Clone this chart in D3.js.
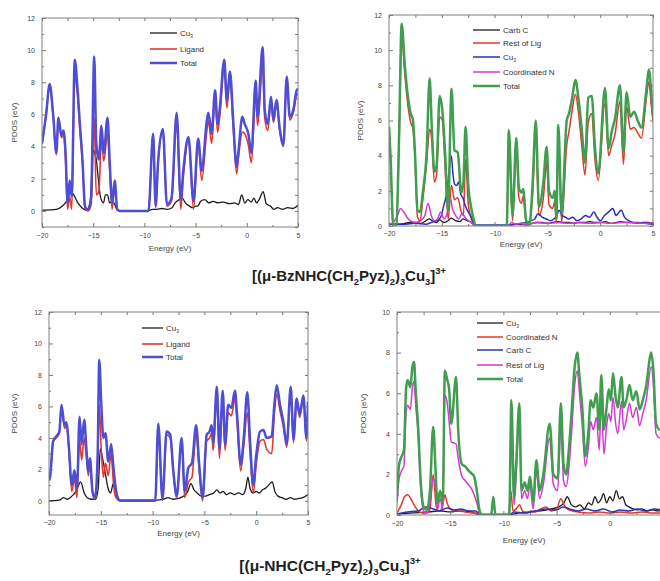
<!DOCTYPE html>
<html><head><meta charset="utf-8">
<script src="https://cdn.jsdelivr.net/npm/d3@7"></script>
<style>body{margin:0;background:#fff}svg{display:block}</style>
</head><body>
<svg id="c" width="660" height="581"></svg>
<script>
// ---------- DATA ----------
const xTickLabels = [-20, -15, -10, -5, 0, 5];
const yTicks12 = [0, 2, 4, 6, 8, 10, 12];
const yTicks10 = [0, 2, 4, 6, 8, 10];

// Panel 1 : [(μ-BzNHC(CH2Pyz)2)3Cu3]3+  (Cu3 / Ligand / Total)
const p1Energy = [-20,-19.6,-19.25,-18.9,-18.6,-18.4,-18.1,-17.9,-17.7,-17.5,-17.3,-17.1,-16.8,-16.55,-16.3,-16.05,-15.8,-15.5,-15.2,-14.9,-14.7,-14.45,-14.2,-13.97,-13.6,-13.4,-13.15,-12.9,-12.65,-12.4,-9.6,-9.15,-8.9,-8.67,-8.2,-7.8,-7.35,-6.85,-6.45,-6.2,-5.7,-5.2,-4.75,-4.4,-3.9,-3.75,-3.43,-3.1,-2.85,-2.65,-2.2,-1.95,-1.64,-1.33,-1.0,-0.8,-0.44,-0.2,0.15,0.45,0.87,1.05,1.55,1.75,2.05,2.36,2.6,2.9,3.2,3.57,3.9,4.2,4.55,4.87,5];
const p1Total = [4.2,6.0,7.9,5.9,3.6,5.8,4.7,5.0,3.6,0.5,1.9,0.9,9.4,7.8,5.4,3.2,0.3,0.05,0.9,9.6,4.2,3.2,5.3,3.6,5.8,3.2,0.5,1.9,0.1,0,0,4.8,0.3,3.0,5.1,0.4,0.8,6.1,0.7,2.5,4.6,0.6,4.5,2.5,5.65,6.1,4.8,7.5,5.4,6.3,9.4,6.9,8.65,5.65,2.75,3.8,5.85,5.4,4.8,3.6,8.1,5.85,10.2,6.3,5.4,7.1,5.65,6.9,5.2,4.1,8.35,5.85,6.3,7.5,7.6];
const p1Ligand = [4.15,5.95,7.8,5.8,3.5,5.65,4.55,4.8,3.2,0.1,0.9,0.1,8.3,7.3,5.0,3.0,0.15,0.0,0.4,5.8,1.0,1.2,4.4,3.1,4.8,2.7,0.1,1.5,0.05,0,0,4.7,0.2,2.9,5.0,0.3,0.6,5.5,0.1,2.1,4.4,0.1,4.2,1.9,5.0,5.6,4.2,7.0,4.9,5.8,8.9,6.4,8.2,5.2,2.3,3.4,4.9,4.8,4.1,3.0,7.3,5.3,9.0,5.8,5.0,6.8,5.5,6.7,5.1,4.0,8.1,5.65,6.15,7.2,7.25];
const p1CuEnergy = [-20,-18.6,-18.0,-17.6,-17.2,-16.9,-16.5,-16.1,-15.7,-15.3,-15.0,-14.85,-14.7,-14.5,-14.3,-14.0,-13.8,-13.6,-13.4,-13.1,-12.9,-12.6,-9.6,-9.2,-8.8,-8.3,-7.8,-7.3,-7.0,-6.6,-6.3,-6.0,-5.6,-5.3,-5.0,-4.8,-4.5,-4.1,-3.7,-3.3,-2.8,-2.3,-1.7,-1.2,-0.8,-0.5,-0.2,0.1,0.45,0.7,0.95,1.2,1.6,1.9,2.3,2.65,3.0,3.5,4.0,4.5,5];
const p1Cu = [0.05,0.1,0.3,0.6,1.2,1.0,0.5,0.2,0.05,0.5,3.8,3.6,3.2,2.0,0.9,0.5,1.0,1.0,0.5,0.6,0.4,0.02,0.02,0.1,0.1,0.15,0.1,0.2,0.5,0.7,0.8,0.5,0.3,0.2,0.3,0.3,0.6,0.7,0.5,0.6,0.5,0.55,0.45,0.5,0.4,1.0,0.5,0.7,0.55,0.8,0.5,0.7,1.2,0.45,0.3,0.1,0.2,0.1,0.2,0.15,0.35];

// Panel 2 : (Carb C / Rest of Lig / Cu3 / Coordinated N / Total)
const p2Energy = [-20,-19.85,-19.6,-19.3,-19.05,-18.8,-18.5,-18.2,-17.9,-17.75,-17.55,-17.3,-17.05,-16.8,-16.45,-16.15,-15.95,-15.7,-15.5,-15.2,-14.95,-14.7,-14.4,-14.08,-13.8,-13.5,-13.15,-12.95,-12.75,-12.5,-12.2,-11.95,-11.8,-8.85,-8.65,-8.3,-7.95,-7.7,-7.45,-7.3,-7.0,-6.7,-6.4,-6.1,-5.8,-5.4,-5.07,-4.85,-4.5,-4.3,-4.15,-3.97,-3.65,-3.17,-2.95,-2.65,-2.35,-2.05,-1.75,-1.44,-1.13,-0.8,-0.5,-0.18,0.45,0.8,1.1,1.4,1.87,2.2,2.5,2.85,3.2,3.55,3.9,4.4,4.6,4.85,5];
const p2Total = [5.65,3.9,0,0.1,5.0,11.5,9.1,7.3,6.3,6.1,4.3,0.9,0.8,1.9,4.0,8.4,5.65,3.1,3.4,7.4,6.6,4.3,0.9,7.8,4.3,4.2,1.9,2.5,5.65,2.4,1.0,0.3,0,0,5.45,0.6,5.0,2.2,1.9,2.1,0.3,0.1,2.4,6.0,1.1,2.4,4.5,2.0,1.6,2.0,0.4,5.75,0.7,6.0,6.4,7.3,8.3,7.2,5.5,3.6,7.3,7.4,4.5,3.0,7.85,4.4,5.4,6.1,8.0,4.2,7.6,6.2,6.5,6.0,5.6,7.9,8.9,7.5,6.2];
const p2RestLig = [5.4,3.6,0,0.05,4.5,10.8,8.6,6.8,5.8,5.6,4.0,0.5,0.3,1.5,3.5,5.5,4.9,2.5,2.9,6.2,6.0,3.5,0.4,2.3,1.5,1.6,0.8,0.6,3.8,1.3,0.4,0.1,0,0,4.7,0.3,4.2,1.6,1.3,1.7,0.15,0.05,1.8,5.2,0.6,1.5,3.6,1.2,1.0,1.4,0.15,4.6,0.2,4.6,5.4,6.6,7.5,6.4,4.6,2.9,5.9,6.4,3.8,2.6,7.0,4.0,4.6,5.2,7.1,3.5,6.8,5.5,5.6,5.3,5.0,7.4,8.2,6.8,6.0];
const p2CarbEnergy = [-20,-19,-18.5,-18,-17.5,-17,-16.5,-16.2,-15.9,-15.5,-15.2,-14.8,-14.4,-14.1,-13.7,-13.3,-13,-12.6,-12.2,-11.9,-8.7,-8.3,-7.5,-7,-6.5,-6,-5.5,-5,-4.5,-4,-3.5,-3,-2.5,-2,-1.5,-1,-0.5,0,0.5,1,1.5,2,2.5,3,3.5,4,4.5,5];
const p2Carb = [0.1,0.1,0.15,0.2,0.2,0.15,0.3,0.4,0.3,0.2,0.35,0.2,0.3,0.45,0.3,0.25,0.4,0.3,0.2,0.02,0.02,0.1,0.1,0.05,0.15,0.2,0.2,0.15,0.2,0.25,0.2,0.2,0.15,0.2,0.2,0.25,0.2,0.2,0.25,0.15,0.2,0.25,0.2,0.2,0.15,0.2,0.2,0.15];
const p2CuEnergy = [-20,-18.5,-17.5,-16.5,-16,-15.5,-15.1,-14.8,-14.5,-14.3,-14.1,-13.95,-13.8,-13.6,-13.4,-13.2,-13.0,-12.8,-12.5,-12.2,-11.9,-8.7,-8,-7.5,-7,-6.6,-6.2,-5.9,-5.5,-5.1,-4.7,-4.4,-4.1,-3.9,-3.6,-3.3,-3.0,-2.6,-2.2,-1.8,-1.4,-1.0,-0.6,-0.3,0,0.4,0.8,1.2,1.5,1.8,2.0,2.3,2.7,3.1,3.6,4.2,5];
const p2Cu = [0.1,0.1,0.15,0.1,0.2,0.3,0.5,1.2,2.0,3.2,4.0,3.0,2.4,2.3,2.5,1.8,1.6,1.2,0.8,0.5,0.05,0.05,0.1,0.15,0.2,0.3,0.4,0.7,0.5,0.4,0.3,0.4,0.6,0.9,0.6,0.5,0.4,0.5,0.3,0.4,0.6,0.5,0.8,0.5,0.3,0.6,0.8,1.0,0.6,0.8,0.9,0.5,0.3,0.2,0.2,0.15,0.1];
const p2CoordEnergy = [-20,-19.6,-19.2,-18.9,-18.6,-18.3,-18,-17.5,-17,-16.6,-16.3,-16.0,-15.7,-15.4,-15.1,-14.8,-14.5,-14.2,-14.0,-13.7,-13.4,-13.1,-12.8,-12.5,-12.2,-11.9,-8.7,-8.4,-8,-7.5,-7,-6,-5,-4,-3,-2,-1,0,1,2,3,4,5];
const p2Coord = [0.1,0.2,0.6,1.0,0.8,0.5,0.3,0.2,0.3,0.6,1.3,0.6,0.3,0.4,0.8,0.4,0.7,1.6,1.0,0.6,0.4,0.7,0.5,0.3,0.2,0.02,0.02,0.2,0.1,0.15,0.05,0.2,0.15,0.2,0.15,0.2,0.15,0.2,0.15,0.2,0.2,0.15,0.2];

// Panel 3 : [(μ-NHC(CH2Pyz)2)3Cu3]3+  (Cu3 / Ligand / Total)
const p3Energy = [-20,-19.9,-19.6,-19.3,-19.0,-18.8,-18.5,-18.3,-18.1,-17.8,-17.55,-17.3,-17.05,-16.85,-16.6,-16.4,-16.2,-16.05,-15.8,-15.55,-15.3,-15.15,-14.95,-14.75,-14.55,-14.28,-14.0,-13.8,-13.6,-13.3,-13.1,-9.75,-9.45,-9.05,-8.65,-8.3,-8.0,-7.67,-7.2,-6.9,-6.55,-6.2,-5.8,-5.5,-5.17,-4.78,-4.5,-4.3,-4.15,-3.8,-3.55,-3.23,-3.0,-2.7,-2.4,-2.05,-1.85,-1.5,-1.2,-0.86,-0.6,-0.28,0.0,0.37,0.7,1.0,1.5,1.75,1.98,2.3,2.6,2.95,3.33,3.6,3.9,4.2,4.55,4.85,5];
const p3Total = [1.3,1.5,3.8,4.1,4.4,6.1,4.8,5.0,3.6,1.0,1.95,0.8,5.35,3.6,5.15,3.4,1.86,2.7,0.6,0.2,3.0,8.95,6.1,4.0,4.3,2.5,3.6,2.3,1.0,0.1,0,0,4.9,0.1,4.4,4.2,1.9,0.3,4.0,0.6,2.1,2.4,4.8,2.3,0.2,4.2,4.4,4.8,3.7,7.25,3.3,7.0,3.6,6.1,5.9,7.0,5.5,2.3,4.0,6.9,3.9,1.0,2.9,4.4,4.5,4.0,4.1,6.1,7.35,6.1,5.1,3.6,7.25,3.9,6.5,5.5,6.7,4.0,6.3];
const p3Ligand = [1.3,1.5,3.75,4.0,4.3,5.9,4.6,4.8,3.4,0.6,1.4,0.2,3.9,2.6,4.0,2.8,1.6,2.5,0.5,0.1,2.2,6.1,3.2,1.5,2.4,1.6,3.0,1.3,0.3,0.05,0,0,4.8,0.02,4.2,4.0,1.8,0.15,3.7,0.2,1.2,1.5,4.3,1.9,0.0,3.8,4.0,4.3,3.2,6.6,2.7,6.4,3.2,5.6,5.4,6.5,5.0,1.9,3.5,5.6,3.1,0.5,2.3,3.8,3.9,3.3,3.0,5.5,6.8,5.7,4.8,3.4,7.05,3.7,6.3,5.3,6.5,3.8,6.0];
const p3CuEnergy = [-20,-19,-18.6,-18.2,-17.8,-17.5,-17.2,-16.95,-16.6,-16.3,-15.9,-15.5,-15.25,-15.05,-14.8,-14.55,-14.3,-14.05,-13.8,-13.6,-13.4,-13.2,-9.6,-9.0,-8.5,-8.0,-7.5,-7.0,-6.6,-6.3,-6.0,-5.7,-5.3,-4.9,-4.5,-4.1,-3.8,-3.5,-3.2,-2.9,-2.5,-2.1,-1.7,-1.3,-1.0,-0.8,-0.6,-0.3,0.0,0.3,0.6,0.9,1.2,1.55,1.8,2.1,2.5,2.9,3.3,3.7,4.1,4.5,5];
const p3Cu = [0.0,0.05,0.2,0.1,0.3,0.5,0.9,1.2,0.5,0.2,0.1,0.1,0.8,3.3,2.6,1.7,0.8,0.5,1.1,0.7,0.3,0.05,0.05,0.1,0.2,0.1,0.15,0.3,0.6,1.1,0.7,0.5,0.3,0.3,0.4,0.5,0.7,0.5,0.6,0.4,0.5,0.4,0.5,0.4,0.8,1.5,0.8,0.5,0.6,0.5,0.7,0.8,1.0,1.2,0.6,0.3,0.2,0.1,0.2,0.1,0.15,0.2,0.4];

// Panel 4 : (Cu3 / Coordinated N / Carb C / Rest of Lig / Total)
const p4Energy = [-20,-19.8,-19.55,-19.35,-19.15,-19.0,-18.75,-18.55,-18.4,-18.25,-18.0,-17.8,-17.5,-17.2,-16.9,-16.6,-16.35,-16.2,-15.95,-15.7,-15.5,-15.3,-15.1,-14.9,-14.45,-14.25,-13.9,-13.6,-13.3,-13.0,-12.75,-12.5,-12.25,-12.0,-11.15,-10.95,-10.75,-9.45,-9.25,-9.0,-8.8,-8.5,-8.3,-8.0,-7.75,-7.5,-7.2,-6.9,-6.6,-6.25,-5.65,-5.3,-4.9,-4.6,-4.35,-4.1,-3.85,-3.6,-3.3,-3.05,-2.85,-2.6,-2.3,-2.0,-1.8,-1.55,-1.25,-1.0,-0.8,-0.55,-0.3,-0.1,0.1,0.3,0.55,0.75,1.1,1.3,1.55,1.85,2.15,2.5,2.8,3.1,3.4,3.9,4.1,4.35,4.7,5];
const p4Total = [0.9,2.5,2.9,3.2,6.2,6.65,6.3,7.3,7.55,6.2,4.2,1.9,0.4,0.25,1.2,4.35,1.9,0.6,1.2,0.6,7.1,6.7,6.2,4.5,6.8,4.2,2.5,2.4,2.2,2.05,1.9,1.2,0.25,0,0,0.9,0,0,5.65,0.9,2.5,5.5,1.2,1.6,1.2,1.9,0.6,2.7,1.2,2.0,4.5,2.0,1.8,5.5,2.5,2.0,3.2,5.0,7.3,8.0,6.8,5.4,2.9,4.2,5.65,5.3,6.0,4.2,6.9,4.2,5.3,6.2,5.65,7.0,5.8,5.3,6.8,5.3,5.65,6.4,5.65,6.1,5.2,5.65,6.3,8.0,7.1,4.5,4.2,4.5];
const p4RestLig = [0.6,1.8,2.2,2.4,5.0,5.4,5.2,6.3,6.6,5.5,3.8,1.6,0.2,0.1,0.6,1.8,1.2,0.3,0.8,0.3,5.9,5.6,4.6,3.6,3.5,2.8,1.9,1.7,1.5,1.3,1.0,0.6,0.1,0,0,0.7,0,0,4.2,0.5,2.0,4.7,0.8,1.2,0.8,1.5,0.3,2.2,0.8,1.5,3.8,1.5,1.2,4.4,1.7,1.4,2.3,4.0,6.4,7.1,6.0,4.5,2.4,3.4,4.6,4.2,4.8,3.2,5.6,3.0,4.4,5.0,4.6,5.8,4.5,4.0,5.6,4.2,4.7,5.5,4.8,5.3,4.4,5.0,5.6,7.3,6.4,4.0,3.8,4.0];
const p4CoordEnergy = [-20,-19.6,-19.3,-19.0,-18.7,-18.4,-18.0,-17.6,-17.2,-16.9,-16.6,-16.3,-16.0,-15.7,-15.5,-15.3,-15.0,-14.6,-14.2,-13.6,-13,-12.5,-12.2,-9.5,-9.3,-9.1,-8.8,-8.5,-8.2,-7.8,-7.4,-7.0,-6.5,-6.0,-5.5,-5.0,-4.6,-4.3,-4.0,-3.5,-3.0,-2.0,-1.0,0,1,2,3,4,5];
const p4Coord = [0.1,0.5,0.9,1.0,0.8,0.5,0.2,0.1,0.1,0.3,2.0,0.4,0.2,0.5,1.0,0.6,0.3,0.2,0.2,0.15,0.1,0.1,0.02,0.02,1.2,0.2,0.3,0.5,0.2,0.1,0.2,0.15,0.3,0.4,0.2,0.3,0.8,0.5,0.3,0.2,0.15,0.1,0.15,0.1,0.15,0.1,0.15,0.1,0.1];
const p4CarbEnergy = [-20,-19,-18,-17.3,-16.6,-16,-15.3,-14.6,-14,-13.3,-12.6,-12.2,-9.4,-9,-8,-7,-6,-5,-4.4,-3.8,-3,-2.2,-1.4,-0.6,0.2,1,1.8,2.6,3.4,4.2,5];
const p4Carb = [0.05,0.15,0.2,0.4,0.3,0.2,0.35,0.25,0.3,0.2,0.2,0.02,0.02,0.15,0.1,0.2,0.3,0.25,0.4,0.3,0.2,0.3,0.2,0.3,0.15,0.25,0.2,0.3,0.2,0.3,0.25];
const p4CuEnergy = [-20,-18.5,-17,-16,-15,-14,-13,-12.3,-9.4,-8.5,-7.5,-6.5,-5.5,-4.8,-4.3,-4.0,-3.6,-3.2,-2.8,-2.4,-2.0,-1.7,-1.4,-1.1,-0.8,-0.6,-0.3,0.0,0.3,0.6,0.9,1.2,1.5,1.8,2.2,2.6,3.0,3.5,4.0,4.5,5];
const p4Cu = [0.05,0.1,0.15,0.2,0.15,0.2,0.15,0.02,0.02,0.1,0.15,0.2,0.3,0.4,0.6,0.9,0.5,0.4,0.5,0.3,0.6,0.5,0.9,0.6,0.8,1.05,0.6,0.9,0.7,1.2,0.8,0.9,0.5,0.4,0.3,0.25,0.3,0.2,0.25,0.2,0.2];

// ---------- STYLE ----------
const C = {black:'#1c1c1c', red:'#e2372f', totalBlue:'#4d4dd6', green:'#3f9e50', magenta:'#d03bd0', blue:'#2f2fb8'};
const FONT = "'Liberation Sans', Arial, sans-serif";

const svg = d3.select('#c');
const defs = svg.append('defs');

// rich text with sub/superscripts (no empty tspans)
function richText(sel, parts, size) {
  let cur = 0;
  parts.forEach(p => {
    const target = p[1] === 'sub' ? size * 0.28 : p[1] === 'sup' ? -size * 0.45 : 0;
    const t = sel.append('tspan').text(p[0]).attr('dy', target - cur);
    t.attr('font-size', p[1] ? size * 0.62 : size);
    cur = target;
  });
}

function drawPanel(p, idx) {
  const x = d3.scaleLinear().domain([-20, 5]).range([p.l, p.r]);
  const y = d3.scaleLinear().domain([p.ymin, p.ymax]).range([p.b, p.t]);
  const cid = 'clip' + idx;
  defs.append('clipPath').attr('id', cid).append('rect')
    .attr('x', p.l).attr('y', p.t).attr('width', p.r - p.l).attr('height', p.b - p.t);
  const g = svg.append('g');
  const line = d3.line().x(d => x(d[0])).y(d => y(d[1])).curve(d3.curveMonotoneX);
  p.series.forEach(s => {
    g.append('path').datum(d3.zip(s.e, s.v)).attr('d', line)
      .attr('fill', 'none').attr('stroke', s.c).attr('stroke-width', s.w)
      .attr('stroke-linejoin', 'round').attr('clip-path', `url(#${cid})`);
  });
  const minorX = d3.range(-17.5, 5, 5);
  const minorY = d3.range(Math.ceil(p.ymin), p.ymax + 0.01, 1).filter(v => v % 2 !== 0);
  const style = a => {
    a.select('.domain').remove();
    a.selectAll('line').attr('stroke', '#777');
    a.selectAll('text').attr('fill', '#444').attr('font-size', 7).attr('font-family', FONT);
  };
  svg.append('g').attr('transform', `translate(0,${p.b})`)
    .call(d3.axisBottom(x).tickValues(xTickLabels).tickSize(-4).tickPadding(p.xpad)).call(style);
  svg.append('g').attr('transform', `translate(0,${p.b})`)
    .call(d3.axisBottom(x).tickValues(minorX).tickSize(-2).tickFormat('')).call(style);
  svg.append('g').attr('transform', `translate(0,${p.t})`)
    .call(d3.axisTop(x).tickValues(xTickLabels.concat(minorX)).tickSize(-3).tickFormat('')).call(style);
  svg.append('g').attr('transform', `translate(${p.l},0)`)
    .call(d3.axisLeft(y).tickValues(p.yticks).tickSize(-4).tickPadding(7)).call(style);
  svg.append('g').attr('transform', `translate(${p.l},0)`)
    .call(d3.axisLeft(y).tickValues(minorY).tickSize(-2).tickFormat('')).call(style);
  svg.append('g').attr('transform', `translate(${p.r},0)`)
    .call(d3.axisRight(y).tickValues(p.yticks.concat(minorY)).tickSize(-3).tickFormat('')).call(style);
  svg.append('rect').attr('x', p.l).attr('y', p.t).attr('width', p.r - p.l).attr('height', p.b - p.t)
    .attr('fill', 'none').attr('stroke', '#808080').attr('stroke-width', 1);
  svg.append('text').attr('transform', `translate(${p.ylx},${(p.t + p.b) / 2}) rotate(-90)`)
    .attr('text-anchor', 'middle').attr('font-size', 8).attr('fill', '#444').attr('font-family', FONT).text('PDOS (eV)');
  svg.append('text').attr('x', (p.l + p.r) / 2 + p.xlDx).attr('y', p.xly)
    .attr('text-anchor', 'middle').attr('font-size', 8).attr('fill', '#444').attr('font-family', FONT).text('Energy (eV)');
  p.legend.forEach((it, i) => {
    const ly = p.legY[i];
    svg.append('line').attr('x1', p.legX1).attr('x2', p.legX2).attr('y1', ly).attr('y2', ly)
      .attr('stroke', it.c).attr('stroke-width', it.w);
    const t = svg.append('text').attr('x', p.legX2 + 3).attr('y', ly + 3)
      .attr('font-size', 8).attr('fill', '#333').attr('font-family', FONT);
    richText(t, it.label, 8);
  });
}

const L = {
  cu: [['Cu', ''], ['3', 'sub']], lig: [['Ligand', '']], tot: [['Total', '']],
  carb: [['Carb C', '']], rest: [['Rest of Lig', '']], coord: [['Coordinated N', '']]
};

const panels = [
  {l: 42, r: 298, t: 18, b: 227, ymin: -1.0, ymax: 12, yticks: yTicks12, ylx: 17, xpad: 6, xly: 251, xlDx: 0,
   series: [
     {e: p1CuEnergy, v: p1Cu, c: C.black, w: 1.3},
     {e: p1Energy, v: p1Ligand, c: C.red, w: 1.6},
     {e: p1Energy, v: p1Total, c: C.totalBlue, w: 2.5}],
   legend: [{label: L.cu, c: C.black, w: 1.3}, {label: L.lig, c: C.red, w: 1.6}, {label: L.tot, c: C.totalBlue, w: 2.5}],
   legX1: 150, legX2: 177, legY: [33, 49, 63]},
  {l: 389, r: 653, t: 15, b: 226, ymin: 0, ymax: 12, yticks: yTicks12, ylx: 363, xpad: 5, xly: 247, xlDx: 0,
   series: [
     {e: p2CarbEnergy, v: p2Carb, c: C.black, w: 1.3},
     {e: p2Energy, v: p2RestLig, c: C.red, w: 1.5},
     {e: p2CuEnergy, v: p2Cu, c: C.blue, w: 1.5},
     {e: p2CoordEnergy, v: p2Coord, c: C.magenta, w: 1.5},
     {e: p2Energy, v: p2Total, c: C.green, w: 2.5}],
   legend: [{label: L.carb, c: C.black, w: 1.3}, {label: L.rest, c: C.red, w: 1.5}, {label: L.cu, c: C.blue, w: 1.5},
            {label: L.coord, c: C.magenta, w: 1.5}, {label: L.tot, c: C.green, w: 2.5}],
   legX1: 473, legX2: 500, legY: [30, 43, 57, 72, 86]},
  {l: 49, r: 308, t: 312, b: 515, ymin: -0.9, ymax: 12, yticks: yTicks12, ylx: 17, xpad: 5, xly: 536, xlDx: 0,
   series: [
     {e: p3CuEnergy, v: p3Cu, c: C.black, w: 1.3},
     {e: p3Energy, v: p3Ligand, c: C.red, w: 1.6},
     {e: p3Energy, v: p3Total, c: C.totalBlue, w: 2.5}],
   legend: [{label: L.cu, c: C.black, w: 1.3}, {label: L.lig, c: C.red, w: 1.6}, {label: L.tot, c: C.totalBlue, w: 2.5}],
   legX1: 142, legX2: 163, legY: [328, 344, 357]},
  {l: 397, r: 663, t: 312, b: 515, ymin: 0, ymax: 10, yticks: yTicks10, ylx: 366, xpad: 6, xly: 543, xlDx: -6,
   series: [
     {e: p4CuEnergy, v: p4Cu, c: C.black, w: 1.3},
     {e: p4CoordEnergy, v: p4Coord, c: C.red, w: 1.5},
     {e: p4CarbEnergy, v: p4Carb, c: C.blue, w: 1.5},
     {e: p4Energy, v: p4RestLig, c: C.magenta, w: 1.5},
     {e: p4Energy, v: p4Total, c: C.green, w: 2.5}],
   legend: [{label: L.cu, c: C.black, w: 1.3}, {label: L.coord, c: C.red, w: 1.5}, {label: L.carb, c: C.blue, w: 1.5},
            {label: L.rest, c: C.magenta, w: 1.5}, {label: L.tot, c: C.green, w: 2.5}],
   legX1: 477, legX2: 503, legY: [323, 337, 350, 365, 379]}
];
panels.forEach(drawPanel);

// compound titles
const t1 = svg.append('text').attr('x', 349).attr('y', 281).attr('text-anchor', 'middle')
  .attr('font-weight', 'bold').attr('fill', '#222').attr('font-family', FONT);
richText(t1, [['[(μ-BzNHC(CH', ''], ['2', 'sub'], ['Pyz)', ''], ['2', 'sub'], [')', ''], ['3', 'sub'], ['Cu', ''], ['3', 'sub'], [']', ''], ['3+', 'sup']], 15);
const t2 = svg.append('text').attr('x', 330).attr('y', 571).attr('text-anchor', 'middle')
  .attr('font-weight', 'bold').attr('fill', '#222').attr('font-family', FONT);
richText(t2, [['[(μ-NHC(CH', ''], ['2', 'sub'], ['Pyz)', ''], ['2', 'sub'], [')', ''], ['3', 'sub'], ['Cu', ''], ['3', 'sub'], [']', ''], ['3+', 'sup']], 15.5);
</script>
</body></html>
